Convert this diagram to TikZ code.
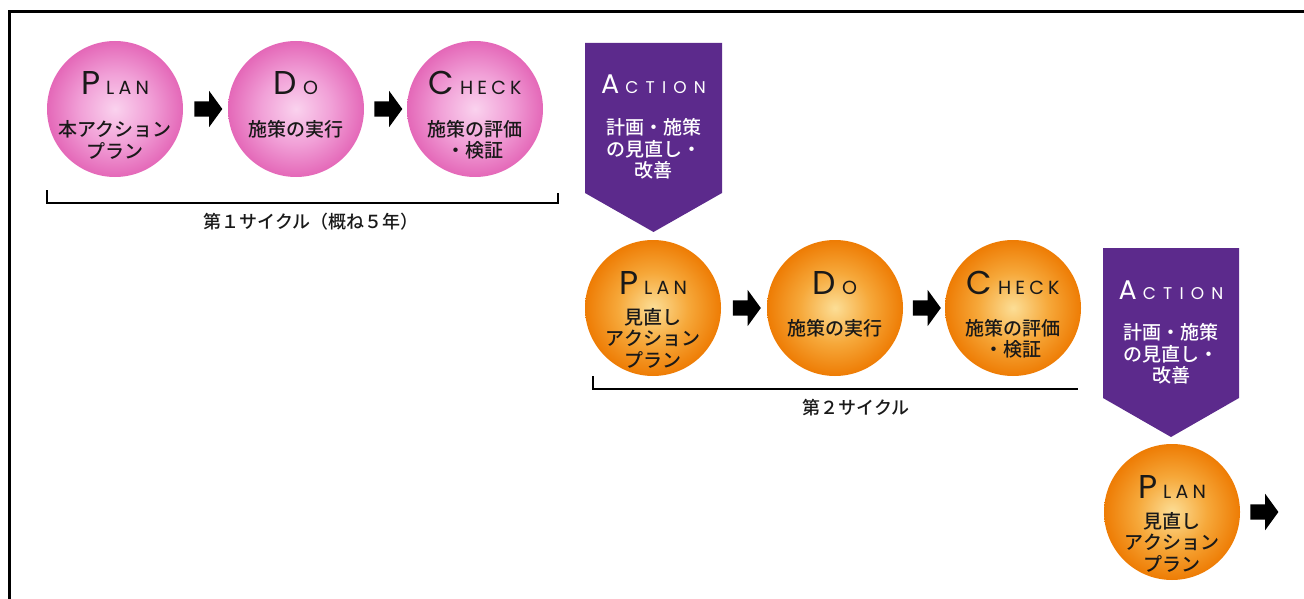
\documentclass[tikz,border=0pt]{standalone}
\usepackage{fontspec}
\setmainfont{Noto Sans CJK JP}[UprightFont={* Medium}]
\newfontfamily\titlefont{Poppins}
\usetikzlibrary{positioning,calc,shapes.arrows}

\definecolor{pinkedge}{RGB}{228,104,184}
\definecolor{pinkmid}{RGB}{241,160,215}
\definecolor{pinkcore}{RGB}{250,210,238}
\definecolor{orangeedge}{RGB}{238,124,4}
\definecolor{orangemid}{RGB}{246,168,58}
\definecolor{orangecore}{RGB}{252,222,150}
\definecolor{actpurple}{RGB}{92,42,140}

\pgfdeclareradialshading{pinkglow}{\pgfpoint{0bp}{0bp}}{color(0bp)=(pinkcore); color(13bp)=(pinkmid); color(25bp)=(pinkedge); color(50bp)=(pinkedge)}
\pgfdeclareradialshading{orangeglow}{\pgfpoint{0bp}{0bp}}{color(0bp)=(orangecore); color(13bp)=(orangemid); color(25bp)=(orangeedge); color(50bp)=(orangeedge)}

% big first letter, small spaced rest
\newcommand\phasetitle[2]{{\titlefont\fontsize{33}{33}\selectfont #1}\hspace{6pt}{\titlefont\fontsize{19}{19}\selectfont\addfontfeature{LetterSpace=22}#2}}
\newcommand\acttitle[2]{{\titlefont\fontsize{27}{27}\selectfont #1}\hspace{6pt}{\titlefont\fontsize{17}{17}\selectfont\addfontfeature{LetterSpace=42}#2}}

\tikzset{
  pinkball/.style={circle, minimum size=136pt, shading=pinkglow},
  orangeball/.style={circle, minimum size=136pt, shading=orangeglow},
  phase/.style={anchor=base, text=black!90},
  jtext/.style={align=center, font=\fontsize{19}{21.5}\selectfont, text=black!90},
  acttext/.style={jtext, text=white},
  blockarrow/.style={single arrow, fill=black, minimum height=28pt, inner xsep=0pt,
    inner ysep=7.5pt, single arrow head extend=10.5pt, single arrow tip angle=108},
  actbox/.style={fill=actpurple},
  bracket/.style={line width=2.4pt},
  cycletext/.style={font=\fontsize{18}{18}\selectfont, text=black!90}
}

\begin{document}
\begin{tikzpicture}[x=1pt,y=-1pt,
    every node/.style={inner sep=0pt}]
  \useasboundingbox (0,0) rectangle (1304,599);

  % frame
  \draw[line width=3.3pt] (9.2,599) -- (9.2,11.7) -- (1304,11.7);

  % first cycle
  \node[pinkball] (plan1) at (115,109) {};
  \node[pinkball] (do1) at (296,109) {};
  \node[pinkball] (check1) at (475,109) {};
  \node[blockarrow] (arr1) at ($(plan1)!.5!(do1)$) {};
  \node[blockarrow] (arr2) at ($(do1)!.5!(check1)$) {};

  \node[phase] (plan1t) at ($(plan1)+(0,-14)$) {\phasetitle{P}{LAN}};
  \node[jtext] (plan1j) at ($(plan1)+(0,31)$) {本アクション\\プラン};
  \node[phase] (do1t) at ($(do1)+(0,-14)$) {\phasetitle{D}{O}};
  \node[jtext] (do1j) at ($(do1)+(0,20)$) {施策の実行};
  \node[phase] (check1t) at ($(check1)+(0,-14)$) {\phasetitle{C}{HECK}};
  \node[jtext] (check1j) at ($(check1)+(0,31)$) {施策の評価\\・検証};

  \draw[bracket] (47,190) -- (47,203) -- (558,203) -- (558,193);
  \node[cycletext] (cycle1) at (311,222) {第１サイクル（概ね５年）};

  % action 1
  \fill[actbox] (585,43) -- (722,43) -- (722,193) -- (653.5,232) -- (585,193) -- cycle;
  \coordinate (act1) at (653.5,43);
  \node[phase, text=white] (act1t) at ($(act1)+(0,51)$) {\acttitle{A}{CTION}};
  \node[acttext] (act1j) at ($(act1)+(0,106)$) {計画・施策\\の見直し・\\改善};

  % second cycle
  \node[orangeball] (plan2) at (653,308) {};
  \node[orangeball] (do2) at (835,308) {};
  \node[orangeball] (check2) at (1013,308) {};
  \node[blockarrow] (arr3) at ($(plan2)!.5!(do2)$) {};
  \node[blockarrow] (arr4) at ($(do2)!.5!(check2)$) {};

  \node[phase] (plan2t) at ($(plan2)+(0,-14)$) {\phasetitle{P}{LAN}};
  \node[jtext] (plan2j) at ($(plan2)+(0,30)$) {見直し\\アクション\\プラン};
  \node[phase] (do2t) at ($(do2)+(0,-14)$) {\phasetitle{D}{O}};
  \node[jtext] (do2j) at ($(do2)+(0,20)$) {施策の実行};
  \node[phase] (check2t) at ($(check2)+(0,-14)$) {\phasetitle{C}{HECK}};
  \node[jtext] (check2j) at ($(check2)+(0,31)$) {施策の評価\\・検証};

  \draw[bracket] (593,376) -- (593,389) -- (1078,389);
  \node[cycletext] (cycle2) at (856,408) {第２サイクル};

  % action 2
  \fill[actbox] (1103,248) -- (1239,248) -- (1239,398) -- (1171,437) -- (1103,398) -- cycle;
  \coordinate (act2) at (1171,248);
  \node[phase, text=white] (act2t) at ($(act2)+(0,51)$) {\acttitle{A}{CTION}};
  \node[acttext] (act2j) at ($(act2)+(0,106)$) {計画・施策\\の見直し・\\改善};

  % third cycle
  \node[orangeball] (plan3) at (1172,512) {};
  \node[blockarrow, right=10pt of plan3] (arr5) {};
  \node[phase] (plan3t) at ($(plan3)+(0,-14)$) {\phasetitle{P}{LAN}};
  \node[jtext] (plan3j) at ($(plan3)+(0,30)$) {見直し\\アクション\\プラン};
\end{tikzpicture}
\end{document}
